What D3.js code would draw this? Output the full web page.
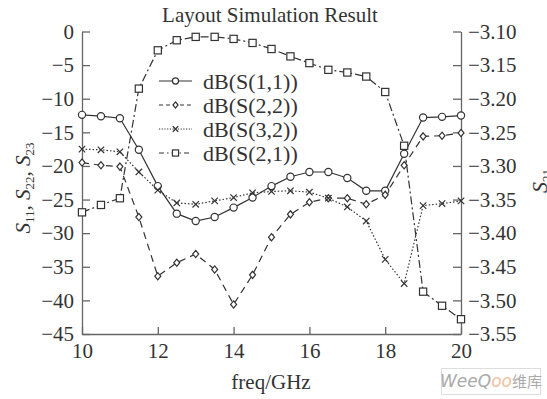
<!DOCTYPE html>
<html>
<head>
<meta charset="utf-8">
<script src="https://cdn.jsdelivr.net/npm/d3@7"></script>
<style>
  body { margin: 0; background: #fff; }
  svg { display: block; }
  text { font-family: "Liberation Serif", "DejaVu Serif", serif; fill: #333; }
</style>
</head>
<body>
<svg id="svg" width="547" height="399"></svg>
<script>
// frequency points (GHz)
var freq = [10, 10.5, 11, 11.5, 12, 12.5, 13, 13.5, 14, 14.5, 15, 15.5, 16, 16.5, 17, 17.5, 18, 18.5, 19, 19.5, 20];

// left axis series (dB)
var s11 = [-12.4, -12.6, -12.9, -17.6, -23.0, -27.1, -28.2, -27.6, -26.2, -24.7, -23.0, -21.6, -20.9, -20.9, -21.8, -23.7, -23.7, -18.2, -12.8, -12.7, -12.5];
var s22 = [-19.5, -19.9, -20.1, -27.6, -36.4, -34.4, -33.1, -35.4, -40.6, -36.2, -30.6, -27.2, -25.4, -24.8, -24.8, -25.7, -24.3, -19.9, -15.6, -15.5, -15.1];
var s32 = [-17.5, -17.6, -17.9, -20.9, -23.6, -25.5, -25.7, -25.2, -24.7, -24.0, -23.8, -23.7, -23.9, -24.8, -26.1, -28.2, -33.9, -37.5, -25.9, -25.6, -25.2];
// right axis series (dB)
var s21 = [-3.369, -3.358, -3.348, -3.185, -3.128, -3.113, -3.108, -3.108, -3.111, -3.117, -3.126, -3.137, -3.147, -3.157, -3.161, -3.167, -3.190, -3.270, -3.487, -3.508, -3.528];

var xTicks = [10, 12, 14, 16, 18, 20];
var leftTicks = [0, -5, -10, -15, -20, -25, -30, -35, -40, -45];
var rightTicks = [-3.10, -3.15, -3.20, -3.25, -3.30, -3.35, -3.40, -3.45, -3.50, -3.55];

var legendNames = ['dB(S(1,1))', 'dB(S(2,2))', 'dB(S(3,2))', 'dB(S(2,1))'];

var svg = d3.select('svg');
var ink = '#333';
var axisInk = '#666';

var x = d3.scaleLinear().domain([10, 20]).range([82, 461]);
var yL = d3.scaleLinear().domain([-45, 0]).range([334, 31.5]);
var yR = d3.scaleLinear().domain([-3.55, -3.10]).range([334, 31.5]);

// axes
var gx = svg.append('g').attr('transform', 'translate(0,334)')
  .call(d3.axisBottom(x).tickValues(xTicks).tickSizeInner(-7).tickSizeOuter(0).tickPadding(9));
var gl = svg.append('g').attr('transform', 'translate(82,0)')
  .call(d3.axisLeft(yL).tickValues(leftTicks).tickSizeInner(-8).tickSizeOuter(0).tickPadding(8));
var gr = svg.append('g').attr('transform', 'translate(461,0)')
  .call(d3.axisRight(yR).tickValues(rightTicks).tickFormat(d3.format('.2f')).tickSizeInner(-8).tickSizeOuter(0).tickPadding(7));

[gx, gl, gr].forEach(function (g) {
  g.selectAll('path, line').attr('stroke', axisInk).attr('stroke-width', 1.3);
  g.selectAll('text').attr('font-family', '"Liberation Serif", serif').attr('font-size', 21).attr('fill', ink);
});

// series definitions
var series = [
  { vals: s11, y: yL, dash: null, legDash: null, marker: 'circle' },
  { vals: s22, y: yL, dash: '7,5', legDash: '4,3', marker: 'diamond' },
  { vals: s32, y: yL, dash: '1.5,2', legDash: '1.2,1.5', marker: 'cross' },
  { vals: s21, y: yR, dash: '8,3,2,3', legDash: '5,3,1.5,3', marker: 'square' }
];

function drawMarker(g, type, cx, cy, k) {
  k = k || 1;
  if (type === 'circle') {
    g.append('circle').attr('cx', cx).attr('cy', cy).attr('r', 3.6 * k)
      .attr('fill', '#fff').attr('stroke', ink).attr('stroke-width', 1.2);
  } else if (type === 'diamond') {
    g.append('path').attr('d', 'M' + cx + ',' + (cy - 3.6 * k) + 'L' + (cx + 3 * k) + ',' + cy + 'L' + cx + ',' + (cy + 3.6 * k) + 'L' + (cx - 3 * k) + ',' + cy + 'Z')
      .attr('fill', '#fff').attr('stroke', ink).attr('stroke-width', 1.2);
  } else if (type === 'cross') {
    var r = 3.2 * k;
    g.append('path').attr('d', 'M' + (cx - r) + ',' + (cy - r) + 'L' + (cx + r) + ',' + (cy + r) + 'M' + (cx + r) + ',' + (cy - r) + 'L' + (cx - r) + ',' + (cy + r))
      .attr('fill', 'none').attr('stroke', ink).attr('stroke-width', 1.2);
  } else {
    g.append('rect').attr('x', cx - 3.6 * k).attr('y', cy - 3.6 * k).attr('width', 7.2 * k).attr('height', 7.2 * k)
      .attr('fill', '#fff').attr('stroke', ink).attr('stroke-width', 1.2);
  }
}

series.forEach(function (s) {
  var line = d3.line()
    .x(function (d, i) { return x(freq[i]); })
    .y(function (d) { return s.y(d); });
  svg.append('path').datum(s.vals)
    .attr('d', line)
    .attr('fill', 'none')
    .attr('stroke', ink)
    .attr('stroke-width', 1.2)
    .attr('stroke-dasharray', s.dash);
});
series.forEach(function (s) {
  var g = svg.append('g');
  s.vals.forEach(function (d, i) { drawMarker(g, s.marker, x(freq[i]), s.y(d)); });
});

// legend
var legend = svg.append('g');
legendNames.forEach(function (name, i) {
  var ly = 81 + i * 24;
  var s = series[i];
  legend.append('line').attr('x1', 159).attr('x2', 192).attr('y1', ly).attr('y2', ly)
    .attr('stroke', ink).attr('stroke-width', 1.2).attr('stroke-dasharray', s.legDash);
  drawMarker(legend, s.marker, 175.5, ly, 0.85);
  legend.append('text').attr('x', 203).attr('y', ly + 7.5).attr('font-size', 22).text(name);
});

// title and axis labels
svg.append('text').attr('x', 270).attr('y', 22).attr('text-anchor', 'middle')
  .attr('font-size', 21).text('Layout Simulation Result');
svg.append('text').attr('x', 271).attr('y', 389).attr('text-anchor', 'middle')
  .attr('font-size', 21).text('freq/GHz');

var yl = svg.append('text').attr('transform', 'translate(30,188) rotate(-90)')
  .attr('text-anchor', 'middle').attr('font-size', 21);
[['S', '11'], ['S', '22'], ['S', '23']].forEach(function (p, i) {
  yl.append('tspan').attr('font-style', 'italic').attr('dy', i > 0 ? -4 : 0).text((i > 0 ? ', ' : '') + p[0]);
  yl.append('tspan').attr('font-size', 13).attr('dy', 4).text(p[1]);
});

// right label sits partly beyond the right edge, as in the source figure
var yr = svg.append('text').attr('transform', 'translate(547,193) rotate(-90)')
  .attr('font-size', 22);
yr.append('tspan').attr('font-style', 'italic').text('S');
yr.append('tspan').attr('font-size', 13).attr('dy', 4).text('21');

// watermark
var wm = svg.append('g');
wm.append('rect').attr('x', 441.5).attr('y', 368.5).attr('width', 99).attr('height', 26)
  .attr('fill', '#fff').attr('stroke', '#ddd');
var wt = wm.append('text').attr('x', 491).attr('y', 387).attr('text-anchor', 'middle').attr('font-size', 17);
wt.append('tspan').attr('font-style', 'italic').attr('font-family', '"DejaVu Sans", sans-serif').attr('fill', '#aaa').text('WeeQ');
wt.append('tspan').attr('font-style', 'italic').attr('font-family', '"DejaVu Sans", sans-serif').attr('fill', '#f2c0a0').text('oo');
wt.append('tspan').attr('font-family', '"Noto Sans CJK SC", sans-serif').attr('fill', '#aaa').attr('font-size', 15).text('维库');
</script>
</body>
</html>
